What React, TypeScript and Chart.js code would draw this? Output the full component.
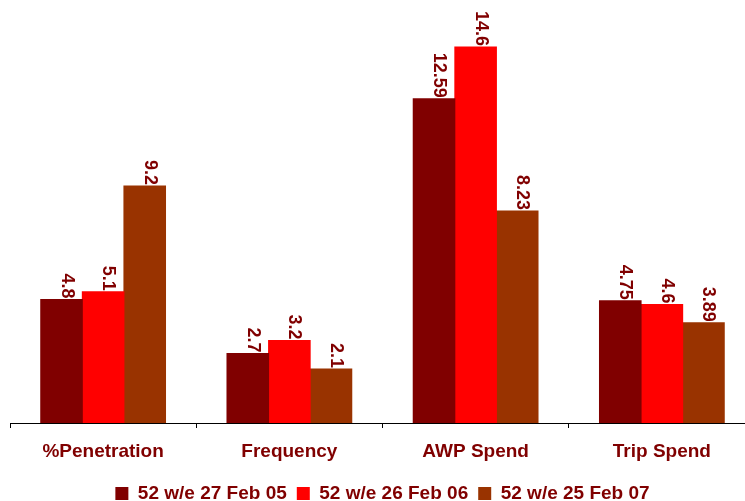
import React, { useEffect, useRef } from "react";
import { Chart, registerables } from "chart.js";

Chart.register(...registerables);

const categories = ["%Penetration", "Frequency", "AWP Spend", "Trip Spend"];
const seriesNames = ["52 w/e 27 Feb 05", "52 w/e 26 Feb 06", "52 w/e 25 Feb 07"];
const values05 = [4.8, 2.7, 12.59, 4.75];
const values06 = [5.1, 3.2, 14.6, 4.6];
const values07 = [9.2, 2.1, 8.23, 3.89];
const seriesColors = ["#800000", "#FF0000", "#993300"];

const FONT = "Arial, 'Liberation Sans', Helvetica, sans-serif";
const TEXT_COLOR = "#800000";

const valueLabelPlugin = {
  id: "valueLabels",
  afterDatasetsDraw(chart: any) {
    const ctx = chart.ctx;
    ctx.save();
    ctx.font = `bold 18px ${FONT}`;
    ctx.fillStyle = TEXT_COLOR;
    ctx.textAlign = "right";
    ctx.textBaseline = "alphabetic";
    chart.data.datasets.forEach((ds: any, di: number) => {
      const meta = chart.getDatasetMeta(di);
      meta.data.forEach((el: any, i: number) => {
        const { x, y } = el.getProps(["x", "y"], true);
        ctx.save();
        ctx.translate(x, y - 1);
        ctx.rotate(Math.PI / 2);
        ctx.fillText(String(ds.data[i]), 0, 0);
        ctx.restore();
      });
    });
    ctx.restore();
  },
};

export default function App() {
  const canvasRef = useRef<HTMLCanvasElement | null>(null);

  useEffect(() => {
    if (!canvasRef.current) return;
    const allValues = [values05, values06, values07];
    const chart = new Chart(canvasRef.current, {
      type: "bar",
      data: {
        labels: categories,
        datasets: allValues.map((vals, i) => ({
          label: seriesNames[i],
          data: vals,
          backgroundColor: seriesColors[i],
          borderWidth: 0,
          inflateAmount: 0.5,
          categoryPercentage: 0.67,
          barPercentage: 1.0,
        })),
      },
      options: {
        responsive: false,
        animation: false,
        layout: { padding: { left: 10, right: 7, top: 11, bottom: 0 } },
        plugins: {
          legend: {
            position: "bottom",
            labels: {
              boxWidth: 13,
              boxHeight: 13,
              padding: 10,
              color: TEXT_COLOR,
              font: { family: FONT, size: 19, weight: "bold" },
            },
          },
          tooltip: { enabled: false },
        },
        scales: {
          x: {
            grid: {
              display: true,
              drawOnChartArea: false,
              drawTicks: true,
              tickLength: 5,
              color: "#000000",
              offset: true,
            },
            border: { display: true, color: "#000000", width: 1 },
            ticks: {
              color: TEXT_COLOR,
              font: { family: FONT, size: 19, weight: "bold" },
              padding: 12,
              maxRotation: 0,
              autoSkip: false,
            },
            afterFit: (scale: any) => {
              scale.height = 51;
            },
          },
          y: { display: false, min: 0, max: 16 },
        },
      },
      plugins: [valueLabelPlugin],
    } as any);
    return () => chart.destroy();
  }, []);

  return (
    <div
      style={{
        position: "fixed",
        left: 0,
        top: 0,
        width: 745,
        height: 501,
        overflow: "hidden",
        background: "#ffffff",
      }}
    >
      <canvas ref={canvasRef} width={762} height={513} style={{ display: "block" }} />
    </div>
  );
}
